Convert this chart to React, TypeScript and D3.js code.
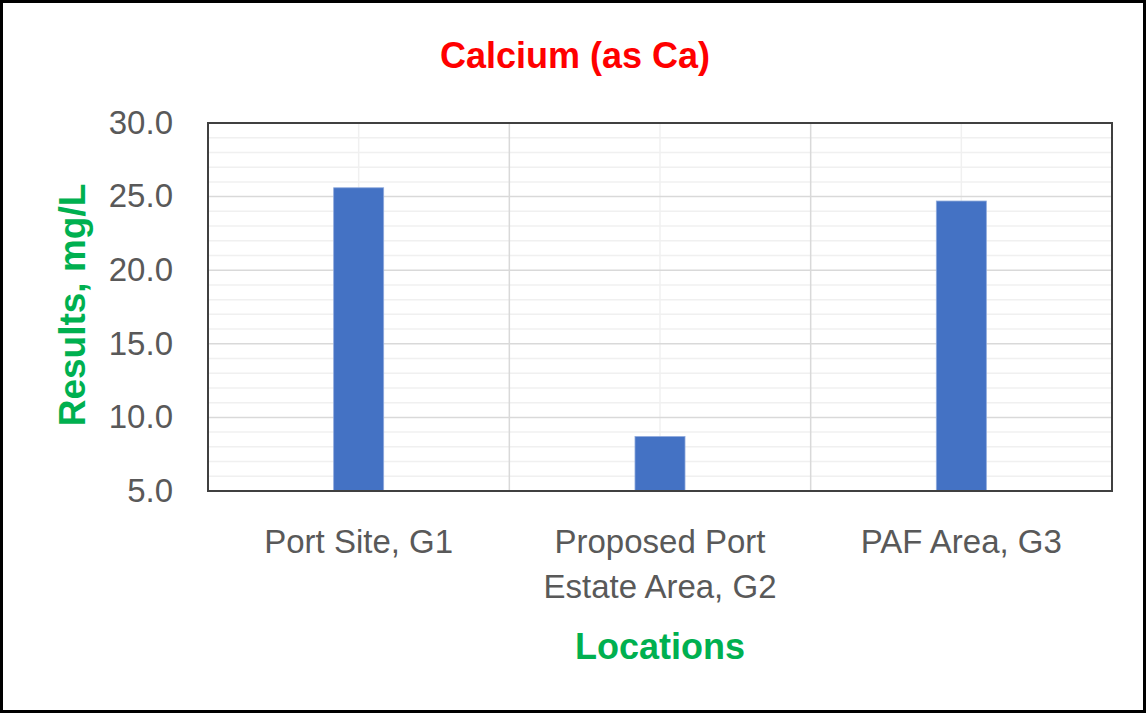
import React from 'react';
import * as d3 from 'd3';

const categories = [['Port Site, G1'], ['Proposed Port', 'Estate Area, G2'], ['PAF Area, G3']];
const values = [25.6, 8.7, 24.7];
const yTicks = [5, 10, 15, 20, 25, 30];
const yMinorTicks = d3.range(5, 31, 1);

const W = 1146;
const H = 713;
const left = 208;
const right = 1112;
const top = 123;
const bottom = 491;
const font = '"Liberation Sans", Arial, sans-serif';

const App = () => {
  const keys = categories.map((c) => c.join(' '));
  const x = d3.scaleBand().domain(keys).range([left, right]).padding(0);
  const y = d3.scaleLinear().domain([5, 30]).range([bottom, top]);
  const barW = x.bandwidth() * 0.166;

  return (
    <svg width={W} height={H} style={{ display: 'block', position: 'absolute', left: 0, top: 0 }}>
      <rect x={1.5} y={1.5} width={W - 3} height={H - 3} fill="#fff" stroke="#000" strokeWidth={3} />
      <text x={575} y={58} textAnchor="middle" dominantBaseline="middle" fill="#ff0000"
        fontFamily={font} fontWeight="bold" fontSize={36}>Calcium (as Ca)</text>

      {yMinorTicks.filter((t) => t % 5 !== 0).map((t) => (
        <line key={'m' + t} x1={left} x2={right} y1={y(t)} y2={y(t)} stroke="#f0f0f0" strokeWidth={1.5} />
      ))}
      {keys.map((k) => (
        <line key={'vm' + k} x1={x(k)! + x.bandwidth() / 2} x2={x(k)! + x.bandwidth() / 2}
          y1={top} y2={bottom} stroke="#f0f0f0" strokeWidth={1.5} />
      ))}
      {yTicks.map((t) => (
        <line key={'g' + t} x1={left} x2={right} y1={y(t)} y2={y(t)} stroke="#d9d9d9" strokeWidth={1.5} />
      ))}
      {keys.slice(1).map((k) => (
        <line key={'v' + k} x1={x(k)} x2={x(k)} y1={top} y2={bottom} stroke="#d9d9d9" strokeWidth={1.5} />
      ))}

      {keys.map((k, i) => (
        <rect key={'b' + k} x={x(k)! + x.bandwidth() / 2 - barW / 2} y={y(values[i])}
          width={barW} height={y(5) - y(values[i])} fill="#4472c4" stroke="#8faadc" strokeWidth={0.8} />
      ))}

      <rect x={left} y={top} width={right - left} height={bottom - top} fill="none" stroke="#404040" strokeWidth={2} />

      {yTicks.map((t) => (
        <text key={'t' + t} x={173} y={y(t) + 2} textAnchor="end" dominantBaseline="middle"
          fill="#595959" fontFamily={font} fontSize={33}>{t.toFixed(1)}</text>
      ))}

      {categories.map((lines, i) => (
        <text key={'c' + i} x={x(keys[i])! + x.bandwidth() / 2} y={544} textAnchor="middle"
          fill="#595959" fontFamily={font} fontSize={33}>
          {lines.map((l, j) => (
            <tspan key={j} x={x(keys[i])! + x.bandwidth() / 2} y={544 + j * 45} dominantBaseline="middle">{l}</tspan>
          ))}
        </text>
      ))}

      <text transform={`translate(75,305) rotate(-90)`} textAnchor="middle" dominantBaseline="middle"
        fill="#00b050" fontFamily={font} fontWeight="bold" fontSize={37}>Results, mg/L</text>
      <text x={(left + right) / 2} y={649} textAnchor="middle" dominantBaseline="middle"
        fill="#00b050" fontFamily={font} fontWeight="bold" fontSize={36}>Locations</text>
    </svg>
  );
};

export default App;
